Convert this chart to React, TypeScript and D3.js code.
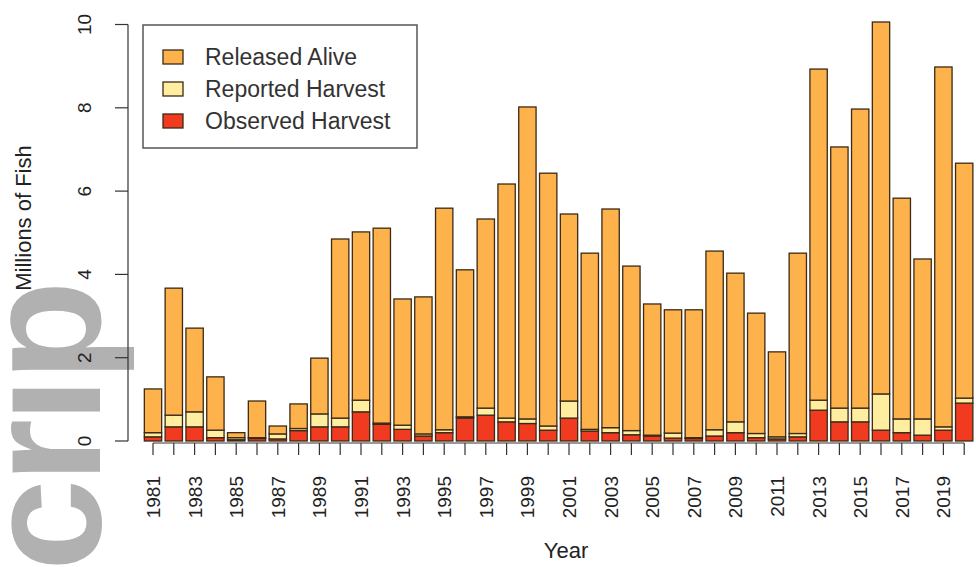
import { useEffect, useRef } from 'react';
import * as d3 from 'd3';

const years = [
  1981, 1982, 1983, 1984, 1985, 1986, 1987, 1988, 1989, 1990,
  1991, 1992, 1993, 1994, 1995, 1996, 1997, 1998, 1999, 2000,
  2001, 2002, 2003, 2004, 2005, 2006, 2007, 2008, 2009, 2010,
  2011, 2012, 2013, 2014, 2015, 2016, 2017, 2018, 2019, 2020,
];

// millions of fish
const observed = [
  0.10, 0.34, 0.34, 0.08, 0.03, 0.06, 0.05, 0.25, 0.34, 0.34,
  0.70, 0.40, 0.28, 0.12, 0.20, 0.55, 0.62, 0.46, 0.42, 0.26,
  0.55, 0.24, 0.20, 0.15, 0.12, 0.07, 0.06, 0.12, 0.20, 0.08,
  0.05, 0.10, 0.74, 0.46, 0.46, 0.26, 0.20, 0.14, 0.26, 0.91,
];
const reported = [
  0.10, 0.28, 0.36, 0.18, 0.05, 0.02, 0.12, 0.05, 0.31, 0.21,
  0.28, 0.03, 0.10, 0.05, 0.07, 0.03, 0.17, 0.09, 0.11, 0.10,
  0.41, 0.04, 0.12, 0.10, 0.02, 0.12, 0.02, 0.15, 0.26, 0.10,
  0.05, 0.08, 0.24, 0.33, 0.33, 0.87, 0.33, 0.39, 0.08, 0.12,
];
const released = [
  1.05, 3.05, 2.01, 1.28, 0.12, 0.88, 0.19, 0.59, 1.34, 4.30,
  4.04, 4.68, 3.03, 3.29, 5.32, 3.53, 4.54, 5.62, 7.49, 6.07,
  4.49, 4.23, 5.25, 3.95, 3.15, 2.96, 3.07, 4.29, 3.57, 2.89,
  2.04, 4.33, 7.95, 6.27, 7.18, 8.93, 5.30, 3.84, 8.64, 5.64,
];

const keys = ['observed', 'reported', 'released'];
const legendLabels = ['Released Alive', 'Reported Harvest', 'Observed Harvest'];
const legendKeys = ['released', 'reported', 'observed'];
const yTicks = [0, 2, 4, 6, 8, 10];

const colors: Record<string, string> = {
  released: '#FEB24C',
  reported: '#FFEDA0',
  observed: '#F03B20',
};

const FONT = 'Liberation Sans, Arial, Helvetica, sans-serif';

const App = () => {
  const svgRef = useRef<SVGSVGElement | null>(null);

  useEffect(() => {
    const width = 976;
    const height = 567;

    const svg = d3.select(svgRef.current);
    svg.selectAll('*').remove();
    svg.attr('width', width).attr('height', height);

    // watermark sitting behind the plot
    svg.append('text')
      .attr('transform', 'translate(100, 571) rotate(-90)')
      .attr('font-family', FONT)
      .attr('font-weight', 'bold')
      .attr('font-size', 165)
      .attr('letter-spacing', -4)
      .attr('fill', '#b1b1b1')
      .text('crip');

    const rows = years.map((yr, i) => ({
      year: String(yr),
      observed: observed[i],
      reported: reported[i],
      released: released[i],
    }));

    const x = d3.scaleBand<string>()
      .domain(years.map(String))
      .range([142.6, 974.6])
      .paddingInner(1 / 6)
      .paddingOuter(1 / 12);

    const y = d3.scaleLinear().domain([0, 10]).range([441, 24.5]);

    const stack = d3.stack<any>().keys(keys);
    const series = stack(rows);

    // stacked bars
    svg.append('g')
      .selectAll('g')
      .data(series)
      .enter()
      .append('g')
      .attr('fill', d => colors[d.key])
      .selectAll('rect')
      .data(d => d)
      .enter()
      .append('rect')
      .attr('x', d => x(d.data.year) as number)
      .attr('width', x.bandwidth())
      .attr('y', d => y(d[1]))
      .attr('height', d => y(d[0]) - y(d[1]))
      .attr('stroke', '#3b2a14')
      .attr('stroke-width', 1.3);

    // y axis (R style)
    const yAxis = svg.append('g').attr('stroke', '#333');
    yAxis.append('line')
      .attr('x1', 128).attr('x2', 128)
      .attr('y1', y(0)).attr('y2', y(10))
      .attr('stroke-width', 1.2);
    yTicks.forEach(t => {
      yAxis.append('line')
        .attr('x1', 128).attr('x2', 115)
        .attr('y1', y(t)).attr('y2', y(t))
        .attr('stroke-width', 1.2);
      svg.append('text')
        .attr('transform', `translate(91, ${y(t)}) rotate(-90)`)
        .attr('text-anchor', 'middle')
        .attr('font-family', FONT)
        .attr('font-size', 19)
        .attr('fill', '#222')
        .text(t);
    });

    svg.append('text')
      .attr('transform', `translate(31, 218) rotate(-90)`)
      .attr('text-anchor', 'middle')
      .attr('font-family', FONT)
      .attr('font-size', 22)
      .attr('fill', '#222')
      .text('Millions of Fish');

    // x axis
    const xAxis = svg.append('g').attr('stroke', '#333');
    const cx = (yr: number) => (x(String(yr)) as number) + x.bandwidth() / 2;
    xAxis.append('line')
      .attr('x1', cx(years[0])).attr('x2', cx(years[years.length - 1]))
      .attr('y1', 443).attr('y2', 443)
      .attr('stroke-width', 1);
    years.forEach((yr, i) => {
      xAxis.append('line')
        .attr('x1', cx(yr)).attr('x2', cx(yr))
        .attr('y1', 443).attr('y2', 455)
        .attr('stroke-width', 1.2);
      if (i % 2 === 0) {
        svg.append('text')
          .attr('transform', `translate(${cx(yr) + 7}, 476) rotate(-90)`)
          .attr('text-anchor', 'end')
          .attr('font-family', FONT)
          .attr('font-size', 19)
          .attr('fill', '#222')
          .text(yr);
      }
    });

    svg.append('text')
      .attr('x', 566)
      .attr('y', 558)
      .attr('text-anchor', 'middle')
      .attr('font-family', FONT)
      .attr('font-size', 22)
      .attr('fill', '#222')
      .text('Year');

    // legend
    const legend = svg.append('g');
    legend.append('rect')
      .attr('x', 143).attr('y', 25)
      .attr('width', 274).attr('height', 123)
      .attr('fill', 'white')
      .attr('stroke', '#555')
      .attr('stroke-width', 1.5);

    legendKeys.forEach((key, i) => {
      const cy = 57 + i * 32;
      legend.append('rect')
        .attr('x', 163).attr('y', cy - 7)
        .attr('width', 20).attr('height', 14)
        .attr('fill', colors[key])
        .attr('stroke', '#3b2a14')
        .attr('stroke-width', 1.3);
      legend.append('text')
        .attr('x', 205)
        .attr('y', cy + 8)
        .attr('font-family', FONT)
        .attr('font-size', 23)
        .attr('fill', '#333')
        .text(legendLabels[i]);
    });
  }, []);

  return (
    <svg ref={svgRef} style={{ position: 'absolute', left: 0, top: 0 }}></svg>
  );
};

export default App;
